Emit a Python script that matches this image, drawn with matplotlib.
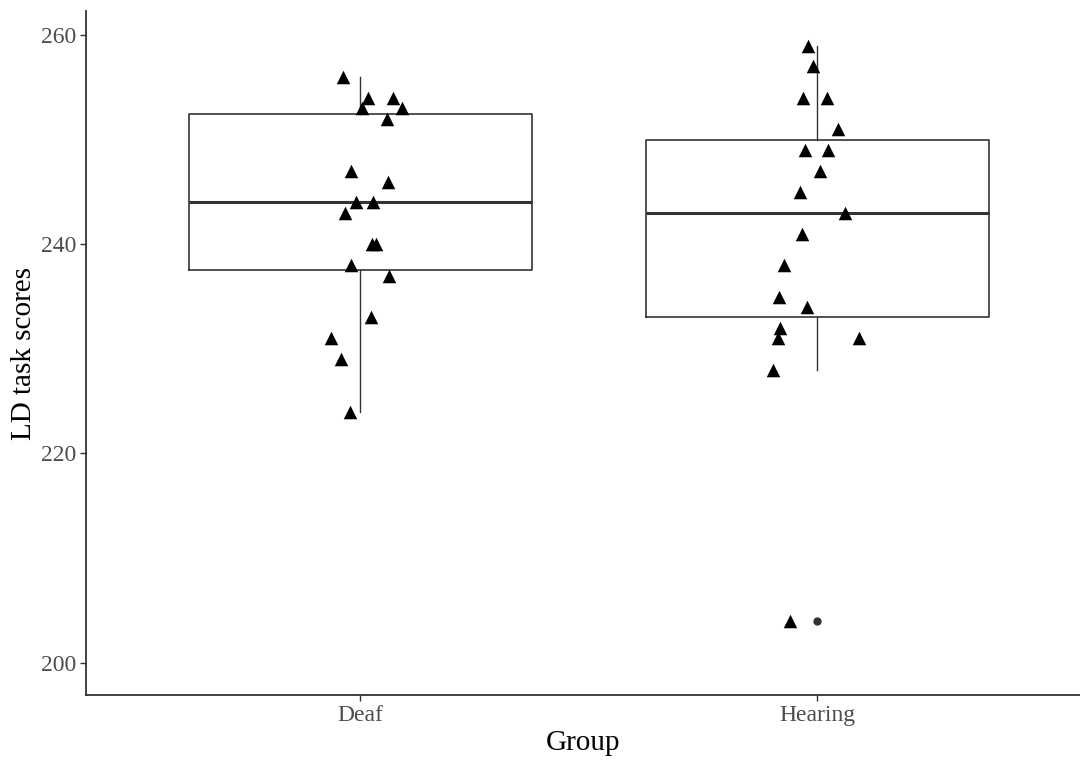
import numpy as np
import matplotlib
matplotlib.use("Agg")
import matplotlib.pyplot as plt

plt.rcParams['font.family'] = ['Liberation Serif', 'DejaVu Serif']

groups = ["Deaf", "Hearing"]

deaf_scores = [256, 254, 254, 253, 253, 252, 247, 246, 244, 244, 243,
               240, 240, 238, 237, 233, 231, 229, 224]
deaf_jitter = [-0.037, 0.018, 0.072, 0.004, 0.092, 0.059, -0.020, 0.061,
               -0.009, 0.028, -0.033, 0.026, 0.035, -0.020, 0.063, 0.024,
               -0.063, -0.042, -0.022]

hearing_scores = [259, 257, 254, 254, 251, 249, 249, 247, 245, 243, 241,
                  238, 235, 234, 232, 231, 231, 228, 204]
hearing_jitter = [-0.020, -0.009, -0.031, 0.022, 0.046, -0.026, 0.024, 0.007,
                  -0.037, 0.061, -0.033, -0.072, -0.083, -0.022, -0.081,
                  -0.085, 0.092, -0.096, -0.059]

yticks = [200, 220, 240, 260]

fig = plt.figure(figsize=(10.8, 7.61), dpi=100)
ax = fig.add_axes([0.0796, 0.0867, 0.9204, 0.8988])

line_col = "#333333"
ax.boxplot([deaf_scores, hearing_scores], positions=[1, 2], widths=0.75,
           whis=1.5,
           boxprops=dict(color=line_col, linewidth=1.2),
           whiskerprops=dict(color=line_col, linewidth=1.0),
           capprops=dict(linewidth=0),
           medianprops=dict(color=line_col, linewidth=2.2),
           flierprops=dict(marker='o', markerfacecolor=line_col,
                           markeredgecolor=line_col, markersize=5),
           zorder=1)

ax.scatter(1 + np.array(deaf_jitter), deaf_scores, marker='^', s=95,
           color='black', linewidths=0, zorder=3)
ax.scatter(2 + np.array(hearing_jitter), hearing_scores, marker='^', s=95,
           color='black', linewidths=0, zorder=3)

ax.set_xlim(0.4, 2.575)
ax.set_ylim(196.9, 262.3)
ax.set_xticks([1, 2])
ax.set_xticklabels(groups)
ax.set_yticks(yticks)

ax.spines['top'].set_visible(False)
ax.spines['right'].set_visible(False)
for s in ['left', 'bottom']:
    ax.spines[s].set_color(line_col)
    ax.spines[s].set_linewidth(1.3)
ax.tick_params(colors=line_col, labelcolor="#4d4d4d", labelsize=17,
               length=4, width=1, pad=3)

ax.set_xlabel("Group", fontsize=21, labelpad=3)
ax.set_ylabel("LD task scores", fontsize=21, labelpad=3)

fig.savefig("out.png", dpi=100)
